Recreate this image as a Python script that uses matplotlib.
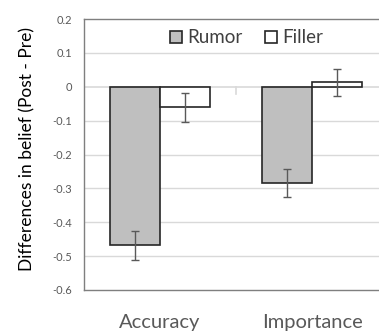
import numpy as np
import matplotlib.pyplot as plt

categories = ["Accuracy", "Importance"]
rumor = [-0.468, -0.284]
rumor_err = [0.042, 0.041]
filler = [-0.061, 0.013]
filler_err = [0.042, 0.039]

plt.rcParams['font.family'] = ['Lato', 'DejaVu Sans']

fig = plt.figure(figsize=(3.79, 3.33), dpi=100)
ax = fig.add_axes([84 / 379, 1 - 290 / 333, 1 - 84 / 379, 271 / 333])

x = np.arange(len(categories))
w = 0.33
ax.bar(x - w / 2, rumor, w, color='#bfbfbf', edgecolor='#262626', linewidth=1.2,
       label='Rumor', zorder=3)
ax.bar(x + w / 2, filler, w, color='white', edgecolor='#262626', linewidth=1.2,
       label='Filler', zorder=3)
ax.errorbar(x - w / 2, rumor, yerr=rumor_err, fmt='none', ecolor='#595959',
            elinewidth=1, capsize=3, capthick=1, zorder=4)
ax.errorbar(x + w / 2, filler, yerr=filler_err, fmt='none', ecolor='#595959',
            elinewidth=1, capsize=3, capthick=1, zorder=4)

ax.set_ylim(-0.6, 0.2)
ax.set_xlim(-0.5, 1.44)
yt = np.round(np.arange(-0.6, 0.21, 0.1), 1)
ax.set_yticks(yt)
ax.set_yticklabels(['0' if v == 0 else f'{v:g}' for v in yt], color='#595959', fontsize=8)
ax.tick_params(axis='y', length=0, pad=8.5)
ax.set_xticks([])
for v in yt:
    if v not in (0.2, -0.6, 0.0):
        ax.axhline(v, color='#d9d9d9', linewidth=1, zorder=1)
ax.axhline(0, color='#d9d9d9', linewidth=1.2, zorder=2)
ax.plot([0.5, 0.5], [0, -0.02], color='#d9d9d9', linewidth=1.2, zorder=2)

for s in ['left', 'top', 'bottom']:
    ax.spines[s].set_color('#7f7f7f')
    ax.spines[s].set_linewidth(1)
ax.spines['right'].set_visible(False)

for i, c in enumerate(categories):
    ax.text(i, -0.695, c, ha='center', va='center', fontsize=14.5, color='#595959',
            clip_on=False)

fig.text(27 / 379, 1 - 149 / 333, 'Differences in belief (Post - Pre)', rotation=90,
         ha='center', va='center', fontsize=12.5, color='black')

ax.legend(loc='center', bbox_to_anchor=(0.55, 0.93), ncol=2, frameon=False,
          fontsize=13.5, handlelength=0.65, handleheight=0.65, handletextpad=0.27,
          columnspacing=1.2, labelcolor='#404040', borderpad=0)

fig.savefig('out.png', dpi=100)
